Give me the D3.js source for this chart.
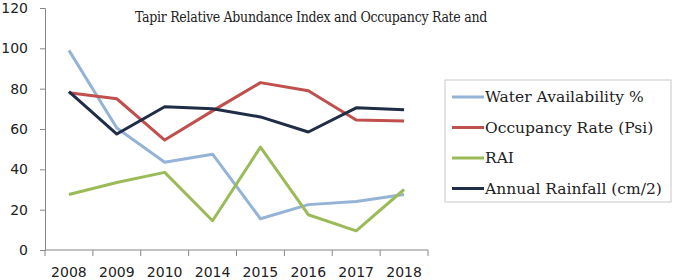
<!DOCTYPE html>
<html>
<head>
<meta charset="utf-8">
<script src="https://cdn.jsdelivr.net/npm/d3@7"></script>
<style>
  body { margin: 0; background: #fff; }
</style>
</head>
<body>
<div id="chart"></div>
<script>
// data
const years = ["2008", "2009", "2010", "2014", "2015", "2016", "2017", "2018"];
const waterAvailability = [99, 60.5, 43.5, 47.5, 15.5, 22.5, 24, 27.5];
const occupancyRate = [78, 75, 54.5, 69, 83, 79, 64.5, 64];
const rai = [27.5, 33.5, 38.5, 14.5, 51, 17.5, 9.5, 30];
const annualRainfall = [78.5, 57.5, 71, 70, 66, 58.5, 70.5, 69.5];
const yTicks = [0, 20, 40, 60, 80, 100, 120];

const series = [
  {name: "Water Availability %", values: waterAvailability, color: "#95b3d7"},
  {name: "Occupancy Rate (Psi)", values: occupancyRate, color: "#c0504d"},
  {name: "RAI", values: rai, color: "#9bbb59"},
  {name: "Annual Rainfall (cm/2)", values: annualRainfall, color: "#1f2d46"}
];

const width = 673, height = 280;
const margin = {top: 8, left: 45, right: 245, bottom: 30};

const svg = d3.select("#chart")
  .append("svg")
  .attr("width", width)
  .attr("height", height);

const x = d3.scaleBand()
  .domain(years)
  .range([margin.left, 428]);

const y = d3.scaleLinear()
  .domain([0, 120])
  .range([250, margin.top]);

// y axis
const yAxis = svg.append("g")
  .attr("transform", `translate(${margin.left},0)`)
  .call(d3.axisLeft(y).tickValues(yTicks).tickSize(5).tickPadding(12));
yAxis.select(".domain").attr("stroke", "#868686");
yAxis.selectAll(".tick line").attr("stroke", "#868686");
yAxis.selectAll("text")
  .style("font-family", "DejaVu Sans, Verdana, sans-serif")
  .style("font-size", "14px")
  .attr("fill", "#222");

// x axis, ticks between categories
const xAxis = svg.append("g")
  .attr("transform", "translate(0,250)");
xAxis.append("line")
  .attr("x1", x.range()[0]).attr("x2", x.range()[1])
  .attr("stroke", "#868686");
xAxis.selectAll("line.tk")
  .data(years.concat(["end"]))
  .join("line")
  .attr("class", "tk")
  .attr("x1", (d, i) => x.range()[0] + i * x.step())
  .attr("x2", (d, i) => x.range()[0] + i * x.step())
  .attr("y1", 0).attr("y2", 6)
  .attr("stroke", "#868686");
xAxis.selectAll("text")
  .data(years)
  .join("text")
  .attr("x", d => x(d) + x.bandwidth() / 2)
  .attr("y", 27)
  .attr("text-anchor", "middle")
  .style("font-family", "DejaVu Sans, Verdana, sans-serif")
  .style("font-size", "14px")
  .attr("fill", "#222")
  .text(d => d);

// lines
const line = d3.line()
  .x((d, i) => x(years[i]) + x.bandwidth() / 2)
  .y(d => y(d));

svg.selectAll("path.series")
  .data(series)
  .join("path")
  .attr("class", "series")
  .attr("d", d => line(d.values))
  .attr("fill", "none")
  .attr("stroke", d => d.color)
  .attr("stroke-width", 3)
  .attr("stroke-linejoin", "round");

// title
svg.append("text")
  .attr("x", 311)
  .attr("y", 22)
  .attr("text-anchor", "middle")
  .style("font-family", "'DejaVu Serif Condensed', 'DejaVu Serif', serif")
  .style("font-stretch", "condensed")
  .style("font-size", "14px")
  .style("letter-spacing", "-0.3px")
  .attr("fill", "#222")
  .text("Tapir Relative Abundance Index and Occupancy Rate and");

// legend
const legend = svg.append("g").attr("transform", "translate(445,80)");
legend.append("rect")
  .attr("width", 226).attr("height", 122)
  .attr("fill", "#fff")
  .attr("stroke", "#c8c8c8");
const item = legend.selectAll("g.item")
  .data(series)
  .join("g")
  .attr("class", "item")
  .attr("transform", (d, i) => `translate(0,${17 + i * 30.5})`);
item.append("line")
  .attr("x1", 7).attr("x2", 39)
  .attr("stroke", d => d.color)
  .attr("stroke-width", 3);
item.append("text")
  .attr("x", 40)
  .attr("y", 5)
  .style("font-family", "DejaVu Serif, Liberation Serif, serif")
  .style("font-size", "15.5px")
  .attr("fill", "#222")
  .text(d => d.name);
</script>
</body>
</html>
